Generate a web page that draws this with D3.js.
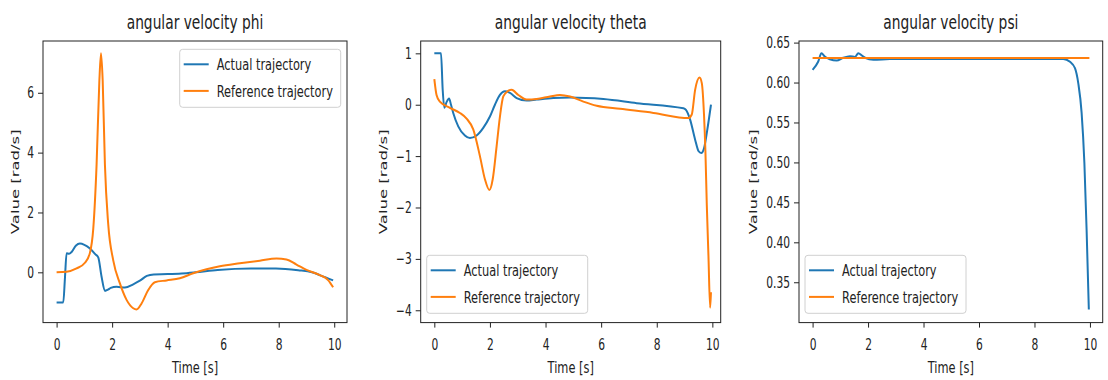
<!DOCTYPE html>
<html>
<head>
<meta charset="utf-8">
<script src="https://cdn.jsdelivr.net/npm/d3@7"></script>
<style>
    body { margin: 0; background: #ffffff; }
    text { font-family: "DejaVu Sans", sans-serif; fill: #222222; }
</style>
</head>
<body>
<script>
// 数据：时间轴刻度
const xTicks = [0, 2, 4, 6, 8, 10];
const seriesNames = ['Actual trajectory', 'Reference trajectory'];
const titles = ['angular velocity phi', 'angular velocity theta', 'angular velocity psi'];

// phi：[时间, 数值]
const phiActual = [[0, -1.01], [0.24, -1.01], [0.3, -0.2], [0.36, 0.64], [0.45, 0.62], [0.54, 0.68], [0.7, 0.9],
    [0.84, 0.96], [1.0, 0.92], [1.2, 0.8], [1.4, 0.6], [1.5, 0.5], [1.62, -0.15], [1.74, -0.62], [1.85, -0.58],
    [1.95, -0.52], [2.16, -0.48], [2.46, -0.51], [2.76, -0.4], [3.0, -0.28], [3.25, -0.12], [3.5, -0.07],
    [4.0, -0.06], [4.5, -0.04], [5.0, 0.0], [5.8, 0.08], [7.0, 0.13], [7.9, 0.13], [8.7, 0.07], [9.2, 0.0],
    [9.5, -0.1], [9.96, -0.27]];
const phiReference = [[0, 0], [0.36, 0.02], [0.72, 0.13], [1.02, 0.32], [1.2, 0.65], [1.32, 1.45], [1.44, 3.6],
    [1.54, 6.4], [1.6, 7.32], [1.66, 6.4], [1.74, 3.6], [1.86, 1.6], [2.04, 0.4], [2.28, -0.37], [2.52, -0.92],
    [2.76, -1.2], [2.88, -1.24], [3.06, -1.04], [3.3, -0.59], [3.54, -0.33], [3.96, -0.27], [4.44, -0.2],
    [4.92, -0.03], [5.4, 0.1], [5.88, 0.2], [6.6, 0.3], [7.32, 0.39], [7.92, 0.46], [8.28, 0.43], [8.64, 0.26],
    [9.0, 0.08], [9.48, -0.09], [9.78, -0.26], [9.96, -0.5]];
const phiTicks = [0, 2, 4, 6];

// theta
const thetaActual = [[0, 1.0], [0.24, 1.0], [0.3, 0.3], [0.36, -0.06], [0.44, 0.05], [0.53, 0.12], [0.6, 0.0],
    [0.68, -0.16], [0.86, -0.42], [1.1, -0.6], [1.28, -0.65], [1.52, -0.6], [1.76, -0.45], [2.0, -0.23],
    [2.18, 0.0], [2.36, 0.19], [2.54, 0.26], [2.72, 0.23], [2.96, 0.13], [3.32, 0.08], [3.68, 0.1], [4.28, 0.13],
    [4.88, 0.14], [6.08, 0.11], [7.28, 0.03], [8.96, -0.07], [9.05, -0.1], [9.2, -0.29], [9.38, -0.68],
    [9.5, -0.9], [9.6, -0.94], [9.7, -0.85], [9.82, -0.48], [9.95, 0.0]];
const thetaReference = [[0, 0.5], [0.08, 0.19], [0.2, 0.06], [0.56, -0.06], [0.92, -0.16], [1.16, -0.27],
    [1.4, -0.48], [1.64, -1.0], [1.82, -1.45], [1.98, -1.66], [2.1, -1.45], [2.24, -0.81], [2.36, -0.23],
    [2.48, 0.16], [2.63, 0.26], [2.78, 0.29], [3.02, 0.19], [3.32, 0.1], [3.68, 0.11], [4.16, 0.16], [4.52, 0.19],
    [4.88, 0.16], [5.36, 0.06], [5.84, -0.02], [6.68, -0.08], [7.88, -0.16], [9.14, -0.26], [9.26, -0.19],
    [9.38, 0.29], [9.54, 0.53], [9.62, 0.42], [9.7, -0.2], [9.75, -0.9], [9.8, -1.95], [9.86, -2.95],
    [9.92, -3.95], [9.95, -3.65]];
const thetaTicks = [-4, -3, -2, -1, 0, 1];

// psi
const psiActual = [[0, 0.6158], [0.2, 0.626], [0.32, 0.6367], [0.44, 0.6325], [0.62, 0.6291], [0.87, 0.6275],
    [1.1, 0.631], [1.35, 0.633], [1.53, 0.632], [1.65, 0.6367], [1.77, 0.634], [1.89, 0.631], [2.19, 0.6285],
    [2.79, 0.6294], [4, 0.6296], [6, 0.6296], [8, 0.6296], [9.04, 0.6296], [9.28, 0.626], [9.46, 0.618],
    [9.58, 0.599], [9.7, 0.562], [9.8, 0.499], [9.88, 0.415], [9.96, 0.316]];
const psiReference = [[0, 0.6306], [2, 0.6306], [4, 0.6306], [6, 0.6306], [8, 0.6306], [9.98, 0.6306]];
const psiTicks = [0.35, 0.40, 0.45, 0.50, 0.55, 0.60, 0.65];

// 布局参数
const width = 1108, height = 380;
const SX = 0.69; // 文字水平压缩
const colors = ['#1f77b4', '#ff7f0e'];
const axesTop = 41, axesBottom = 322.6;
const panels = [
    {left: 43, right: 347, xDomain: [-0.49, 10.46], yDomain: [-1.68, 7.73], yTicks: phiTicks, yFmt: d3.format('d'),
        series: [phiActual, phiReference], legend: 'upper right', yLabelX: 18.5},
    {left: 420.7, right: 720.7, xDomain: [-0.49, 10.30], yDomain: [-4.24, 1.24], yTicks: thetaTicks, yFmt: d3.format('d'),
        series: [thetaActual, thetaReference], legend: 'lower left', yLabelX: 386.5},
    {left: 799, right: 1102.7, xDomain: [-0.49, 10.46], yDomain: [0.2995, 0.652], yTicks: psiTicks, yFmt: d3.format('.2f'),
        series: [psiActual, psiReference], legend: 'lower left', yLabelX: 756.5}
];

const svg = d3.select('body')
    .append('svg')
    .attr('width', width)
    .attr('height', height);

// 添加压缩文字
const addText = (parent, x, y, str, size, anchor) => parent.append('text')
    .attr('transform', `translate(${x},${y}) scale(${SX},1)`)
    .attr('text-anchor', anchor || 'middle')
    .style('font-size', `${size}px`)
    .text(str);

panels.forEach((p, i) => {
    const x = d3.scaleLinear().domain(p.xDomain).range([p.left, p.right]);
    const y = d3.scaleLinear().domain(p.yDomain).range([axesBottom, axesTop]);
    const g = svg.append('g');

    // 曲线
    const line = d3.line()
        .x(d => x(d[0]))
        .y(d => y(d[1]))
        .curve(d3.curveMonotoneX);
    p.series.forEach((s, k) => {
        g.append('path')
            .datum(s)
            .attr('fill', 'none')
            .attr('stroke', colors[k])
            .attr('stroke-width', 2)
            .attr('stroke-linejoin', 'round')
            .attr('d', line);
    });

    // 坐标轴
    const xAxis = g.append('g')
        .attr('transform', `translate(0,${axesBottom})`)
        .call(d3.axisBottom(x).tickValues(xTicks).tickSize(5).tickPadding(11).tickSizeOuter(0).tickFormat(d3.format('d')));
    const yAxis = g.append('g')
        .attr('transform', `translate(${p.left},0)`)
        .call(d3.axisLeft(y).tickValues(p.yTicks).tickSize(5).tickPadding(4).tickSizeOuter(0).tickFormat(p.yFmt));
    [xAxis, yAxis].forEach(a => {
        a.select('.domain').remove();
        a.attr('font-family', null).attr('font-size', null);
        a.selectAll('.tick line').attr('stroke', '#222222');
        a.selectAll('.tick text').style('font-size', '15.5px').attr('fill', '#222222');
    });
    xAxis.selectAll('.tick text').attr('transform', `scale(${SX},1)`);
    yAxis.selectAll('.tick text').attr('transform', `scale(${SX},1)`).attr('x', -9 / SX);

    // 边框
    g.append('rect')
        .attr('x', p.left)
        .attr('y', axesTop)
        .attr('width', p.right - p.left)
        .attr('height', axesBottom - axesTop)
        .attr('fill', 'none')
        .attr('stroke', '#222222')
        .attr('stroke-width', 1);

    // 标题与轴标签
    const cx = (p.left + p.right) / 2;
    addText(g, cx, 29, titles[i], 20);
    addText(g, cx, 373, 'Time [s]', 16.5);
    g.append('text')
        .attr('transform', `translate(${p.yLabelX},${(axesTop + axesBottom) / 2}) rotate(-90) scale(1,${SX})`)
        .attr('text-anchor', 'middle')
        .style('font-size', '16.5px')
        .text('Value [rad/s]');

    // 图例
    const lw = 161, lh = 58;
    const lx = p.legend === 'upper right' ? p.right - 6.3 - lw : p.left + 6;
    const ly = p.legend === 'upper right' ? axesTop + 8.3 : axesBottom - 9.3 - lh;
    const lg = g.append('g').attr('transform', `translate(${lx},${ly})`);
    lg.append('rect')
        .attr('width', lw)
        .attr('height', lh)
        .attr('rx', 3)
        .attr('fill', '#ffffff')
        .attr('fill-opacity', 0.8)
        .attr('stroke', '#d0d0d0');
    seriesNames.forEach((name, k) => {
        const ry = 15 + k * 26.6;
        lg.append('line')
            .attr('x1', 4).attr('x2', 29)
            .attr('y1', ry).attr('y2', ry)
            .attr('stroke', colors[k])
            .attr('stroke-width', 2);
        addText(lg, 37, ry + 6, name, 16.5, 'start');
    });
});
</script>
</body>
</html>
